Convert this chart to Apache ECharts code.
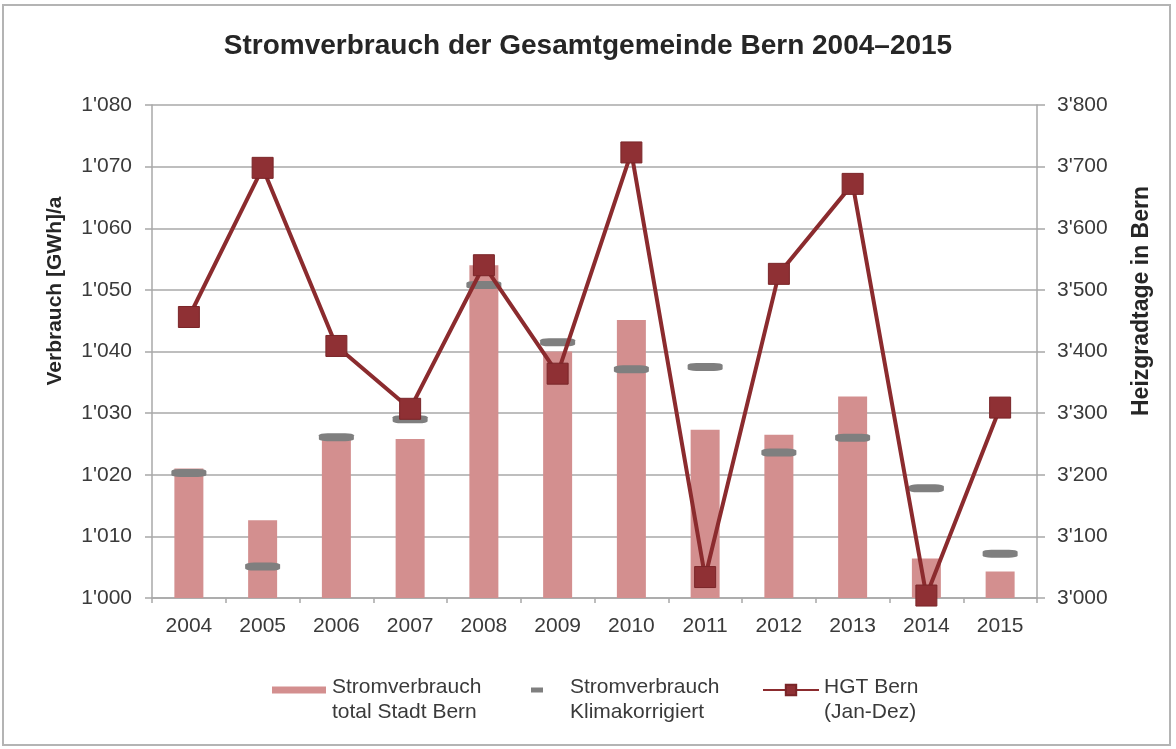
<!DOCTYPE html>
<html>
<head>
<meta charset="utf-8">
<script src="https://cdn.jsdelivr.net/npm/echarts@6/dist/echarts.min.js"></script>
<style>
  html, body { margin: 0; padding: 0; background: #fff; }
  #main { width: 1176px; height: 749px; }
</style>
</head>
<body>
<div id="main"></div>
<script>
// Jahre
var years = ['2004', '2005', '2006', '2007', '2008', '2009', '2010', '2011', '2012', '2013', '2014', '2015'];
// Stromverbrauch total Stadt Bern [GWh/a]
var totalData = [1021.0, 1012.6, 1025.7, 1025.8, 1054.0, 1040.0, 1045.1, 1027.3, 1026.5, 1032.7, 1006.4, 1004.3];
// Stromverbrauch klimakorrigiert [GWh/a]
var klimaData = [1020.3, 1005.1, 1026.1, 1029.0, 1050.8, 1041.5, 1037.1, 1037.5, 1023.6, 1026.0, 1017.8, 1007.2];
// Heizgradtage Bern (Jan-Dez)
var hgtData = [3456, 3698, 3409, 3307, 3540, 3364, 3723, 3034, 3526, 3672, 3004, 3309];

var FONT = '"Liberation Sans", Arial, sans-serif';
var gridColor = '#a8a8a8';
var textColor = '#3a3a3a';

function thousands(v) {
    return String(v).replace(/(\d)(\d{3})$/, "$1'$2");
}

// legend text: a small spacer line on top so the first line sits next to the icon
function legendStyle(padLeft) {
    return {
        fontFamily: FONT,
        fontSize: 21,
        color: textColor,
        rich: {
            s: { fontSize: 10, lineHeight: 19 },
            a: {
                fontFamily: FONT,
                fontSize: 21,
                color: textColor,
                lineHeight: 25,
                padding: [0, 0, 0, padLeft]
            }
        }
    };
}

function legendLines(l1, l2) {
    return '{s| }\n{a|' + l1 + '}\n{a|' + l2 + '}';
}

var chart = echarts.init(document.getElementById('main'));

var option = {
    backgroundColor: '#fff',
    animation: false,
    title: {
        text: 'Stromverbrauch der Gesamtgemeinde Bern 2004–2015',
        left: 'center',
        top: 27,
        textStyle: {
            fontFamily: FONT,
            fontSize: 28,
            fontWeight: 'bold',
            color: '#262626'
        }
    },
    graphic: [
        {
            type: 'rect',
            shape: { x: 3, y: 5, width: 1167, height: 740 },
            style: { fill: 'none', stroke: '#b4b4b4', lineWidth: 2 },
            silent: true
        },
        {
            type: 'text',
            x: 55, y: 291,
            rotation: Math.PI / 2,
            style: {
                text: 'Verbrauch [GWh]/a',
                align: 'center', verticalAlign: 'middle',
                fontFamily: FONT, fontSize: 21, fontWeight: 'bold', fill: '#262626'
            }
        },
        {
            type: 'text',
            x: 1142, y: 301,
            rotation: Math.PI / 2,
            style: {
                text: 'Heizgradtage in Bern',
                align: 'center', verticalAlign: 'middle',
                fontFamily: FONT, fontSize: 23, fontWeight: 'bold', fill: '#262626'
            }
        }
    ],
    legend: [
        {
            data: ['Stromverbrauch total Stadt Bern'],
            left: 267, top: 655,
            itemWidth: 54, itemHeight: 7,
            icon: 'rect',
            formatter: function () { return legendLines('Stromverbrauch', 'total Stadt Bern'); },
            textStyle: legendStyle(1)
        },
        {
            data: ['Stromverbrauch Klimakorrigiert'],
            left: 526, top: 655,
            itemWidth: 12, itemHeight: 5,
            icon: 'rect',
            formatter: function () { return legendLines('Stromverbrauch', 'Klimakorrigiert'); },
            textStyle: legendStyle(22)
        },
        {
            data: ['HGT Bern (Jan-Dez)'],
            left: 757, top: 655,
            itemWidth: 56, itemHeight: 13,
            formatter: function () { return legendLines('HGT Bern', '(Jan-Dez)'); },
            textStyle: legendStyle(0)
        }
    ],
    grid: {
        left: 152,
        right: 139,
        top: 105,
        bottom: 151
    },
    xAxis: {
        type: 'category',
        data: years,
        axisLine: { lineStyle: { color: gridColor, width: 1.5 } },
        axisTick: { show: true, length: 5, lineStyle: { color: gridColor, width: 1.5 } },
        axisLabel: {
            fontFamily: FONT,
            fontSize: 21,
            color: textColor,
            margin: 18
        }
    },
    yAxis: [
        {
            type: 'value',
            min: 1000,
            max: 1080,
            interval: 10,
            axisLine: { show: true, lineStyle: { color: gridColor, width: 1.5 } },
            axisTick: { show: true, length: 7, lineStyle: { color: gridColor, width: 1.5 } },
            splitLine: { lineStyle: { color: gridColor, width: 1.5 } },
            axisLabel: {
                fontFamily: FONT,
                fontSize: 21,
                color: textColor,
                margin: 20,
                formatter: thousands
            }
        },
        {
            type: 'value',
            position: 'right',
            min: 3000,
            max: 3800,
            interval: 100,
            axisLine: { show: true, lineStyle: { color: gridColor, width: 1.5 } },
            axisTick: { show: true, length: 8, lineStyle: { color: gridColor, width: 1.5 } },
            splitLine: { show: false },
            axisLabel: {
                fontFamily: FONT,
                fontSize: 21,
                color: textColor,
                margin: 20,
                formatter: thousands
            }
        }
    ],
    series: [
        {
            name: 'Stromverbrauch total Stadt Bern',
            type: 'bar',
            yAxisIndex: 0,
            barWidth: 29,
            z: 2,
            itemStyle: { color: '#d38f8f' },
            data: totalData
        },
        {
            name: 'Stromverbrauch Klimakorrigiert',
            type: 'scatter',
            yAxisIndex: 0,
            symbol: 'roundRect',
            symbolSize: [35, 8],
            z: 3,
            itemStyle: { color: '#7f7f7f', opacity: 1 },
            data: klimaData
        },
        {
            name: 'HGT Bern (Jan-Dez)',
            type: 'line',
            yAxisIndex: 1,
            symbol: 'rect',
            symbolSize: 21,
            clip: false,
            z: 4,
            lineStyle: { color: '#8b2b2e', width: 4 },
            itemStyle: { color: '#8f3034', borderColor: '#7a2528', borderWidth: 1 },
            data: hgtData
        }
    ]
};

chart.setOption(option);
</script>
</body>
</html>
